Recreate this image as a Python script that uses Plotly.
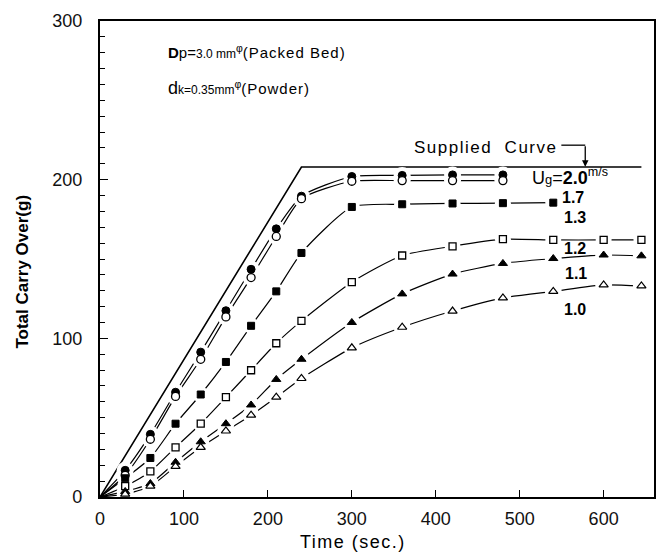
import plotly.graph_objects as go

# ---------------- data ----------------
time_s = [30, 60, 90, 120, 150, 180, 210, 240, 300, 360, 420, 480, 540, 600, 645]

ug20 = [16.8, 39.5, 66.0, 91.3, 117.4, 143.5, 169.0, 189.6, 202.0, 202.7, 203.0, 203.0]
ug17 = [13.7, 36.4, 63.4, 86.8, 113.5, 138.3, 164.2, 188.0, 199.0, 199.4, 199.4, 199.4]
ug13 = [11.8, 24.6, 46.2, 64.6, 85.1, 107.9, 129.6, 153.8, 182.8, 184.5, 185.0, 185.2, 185.5]
ug12 = [6.8, 16.1, 31.3, 46.2, 62.9, 79.9, 96.9, 111.0, 135.4, 152.2, 158.0, 162.5, 162.0, 162.0, 162.0]
ug11 = [3.5, 8.5, 21.9, 34.8, 46.2, 58.0, 74.1, 86.8, 110.0, 128.0, 140.5, 147.2, 150.3, 152.5, 152.0]
ug10 = [1.8, 6.8, 19.3, 31.3, 41.6, 51.6, 62.9, 74.7, 94.0, 107.0, 117.2, 125.5, 129.6, 133.7, 133.0]

supplied_t = [0, 240, 645]
supplied_g = [0, 208, 208]

series_labels = ["2.0", "1.7", "1.3", "1.2", "1.1", "1.0"]

# ---------------- styling ----------------
FONT = "Liberation Sans"
series = [
    (ug20, dict(symbol="circle", color="black", size=8, line=dict(color="black", width=1))),
    (ug17, dict(symbol="circle", color="white", size=8, line=dict(color="black", width=1.3))),
    (ug13, dict(symbol="square", color="black", size=7, line=dict(color="black", width=1))),
    (ug12, dict(symbol="square", color="white", size=7, line=dict(color="black", width=1.3))),
    (ug11, dict(symbol="triangle-up", color="black", size=8, line=dict(color="black", width=1))),
    (ug10, dict(symbol="triangle-up", color="white", size=8, line=dict(color="black", width=1.2))),
]

fig = go.Figure()

# supplied curve
fig.add_trace(go.Scatter(x=supplied_t, y=supplied_g, mode="lines",
                         line=dict(color="black", width=1.6), hoverinfo="skip"))

# connecting lines (all start from origin)
for vals, _ in series:
    xs = [0] + time_s[:len(vals)]
    ys = [0] + vals
    fig.add_trace(go.Scatter(x=xs, y=ys, mode="lines",
                             line=dict(color="black", width=1.2, shape="spline", smoothing=0.6),
                             hoverinfo="skip"))

# white halos to create gaps around markers
for vals, m in series:
    fig.add_trace(go.Scatter(x=time_s[:len(vals)], y=vals, mode="markers",
                             marker=dict(symbol="circle", color="white", size=m["size"] + 9,
                                         line=dict(width=0)),
                             hoverinfo="skip"))

# markers
for vals, m in series:
    fig.add_trace(go.Scatter(x=time_s[:len(vals)], y=vals, mode="markers", marker=m))

# ---------------- layout ----------------
L, R, T, B = 100, 11, 14, 61
W, H = 667, 558
PW, PH = W - L - R, H - T - B


def px(xp, yp):
    return (xp - L) / PW, (H - B - yp) / PH


annotations = []


def add_text(text, xp, yp, size=15, xanchor="center", bold=False, **kw):
    x, y = px(xp, yp)
    annotations.append(dict(text=(f"<b>{text}</b>" if bold else text), x=x, y=y,
                            xref="paper", yref="paper", showarrow=False,
                            xanchor=xanchor, yanchor="middle",
                            font=dict(family=FONT, size=size, color="black"), **kw))


SP = "<span style='letter-spacing:1px'>"
add_text("<b>D</b>p=<span style='font-size:12px'>3.0 mm</span><sup>φ</sup>"
         + SP + "(Packed Bed)</span>", 166, 45, size=15, xanchor="left")
add_text("<span style='font-size:18px'>d</span><span style='font-size:12px'>k=0.35mm</span><sup>φ</sup>"
         + SP + "(Powder)</span>", 166, 82, size=15, xanchor="left")
add_text("<span style='letter-spacing:1.5px'>Supplied  Curve</span>", 413, 142, size=17,
         xanchor="left")
add_text("U<span style='font-size:13px'>g</span>=<b>" + series_labels[0] +
         "</b><sup>m/s</sup>", 532, 172, size=18, xanchor="left")
label_pos = [(575, 193), (577, 213), (577, 245), (578, 270), (577, 307)]
for lab, (xp, yp) in zip(series_labels[1:], label_pos):
    add_text(lab, xp, yp, size=16, bold=True)

# y-axis title
add_text("Total Carry Over(g)", 22, 268, size=17, bold=True, textangle=-90)
# x-axis title
add_text("<span style='letter-spacing:1.5px'>Time (sec.)</span>", 354, 543, size=18)

# arrow from "Supplied Curve" label down to the supplied line
ax0, ay0 = px(587, 140)
annotations.append(dict(x=ax0, y=px(587, 162)[1], xref="paper", yref="paper",
                        ax=0, ay=-22, showarrow=True, arrowhead=2, arrowsize=1,
                        arrowwidth=1.3, arrowcolor="black", text=""))

shapes = [dict(type="line", xref="paper", yref="paper",
               x0=px(563, 140)[0], x1=ax0, y0=ay0, y1=ay0,
               line=dict(color="black", width=1.3))]

fig.update_layout(
    width=W, height=H,
    margin=dict(l=L, r=R, t=T, b=B, pad=0),
    paper_bgcolor="white", plot_bgcolor="white",
    showlegend=False,
    annotations=annotations,
    shapes=shapes,
    font=dict(family=FONT, color="black"),
)

fig.update_xaxes(range=[0, 660], tickvals=[0, 100, 200, 300, 400, 500, 600],
                 ticks="inside", ticklen=7, tickwidth=1.3, tickcolor="black",
                 showline=True, linecolor="black", linewidth=2, mirror=True,
                 showgrid=False, zeroline=False,
                 tickfont=dict(family=FONT, size=18, color="#111"),
                 ticklabelstandoff=4)
fig.update_yaxes(range=[0, 300], tickvals=[0, 100, 200, 300],
                 ticks="inside", ticklen=8, tickwidth=1.3, tickcolor="black",
                 minor=dict(dtick=10, ticks="inside", ticklen=5, tickwidth=1.2, tickcolor="black"),
                 showline=True, linecolor="black", linewidth=2.2, mirror=True,
                 showgrid=False, zeroline=False,
                 tickfont=dict(family=FONT, size=18, color="#111"),
                 ticklabelstandoff=12)

fig.write_html("out.html")
